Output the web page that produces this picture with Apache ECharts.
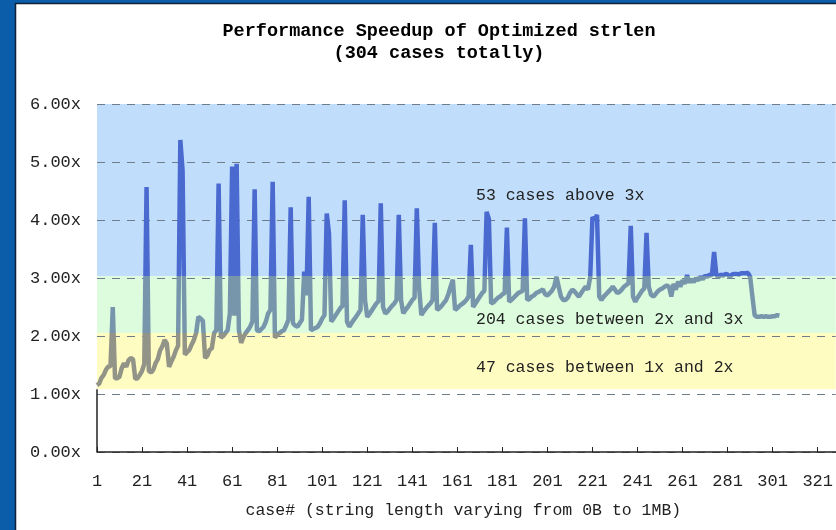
<!DOCTYPE html>
<html>
<head>
<meta charset="utf-8">
<script src="https://cdn.jsdelivr.net/npm/echarts@6/dist/echarts.min.js"></script>
<style>
html,body{margin:0;padding:0;background:#fff;}
#main{width:836px;height:530px;}
</style>
</head>
<body>
<div id="main"></div>
<script>
// ---- data ----
const titleText = 'Performance Speedup of Optimized strlen\n(304 cases totally)';
const xAxisName = 'case# (string length varying from 0B to 1MB)';
const caseCount = 329; // visible range of the x axis (1..329)
const speedup = [
  1.15,1.18,1.28,1.33,1.42,1.47,1.48,2.50,1.27,1.27,
  1.30,1.45,1.53,1.47,1.58,1.62,1.60,1.26,1.27,1.33,
  1.40,1.52,4.57,1.40,1.37,1.42,1.53,1.60,1.75,1.82,
  1.93,1.87,1.47,1.56,1.64,1.75,1.83,5.38,4.85,1.68,
  1.72,1.76,1.85,1.93,2.05,2.33,2.30,2.26,1.62,1.66,
  1.76,1.79,2.05,2.10,4.63,1.97,2.00,2.05,2.10,2.39,
  4.92,2.35,4.97,2.10,1.88,1.98,2.05,2.10,2.16,2.25,
  4.53,2.10,2.08,2.12,2.16,2.25,2.39,2.45,4.66,1.97,
  2.02,2.05,2.08,2.10,2.18,2.28,4.22,2.22,2.18,2.16,
  2.22,2.28,3.11,2.70,4.40,2.10,2.12,2.14,2.16,2.22,
  2.30,2.36,4.11,3.77,2.25,2.30,2.36,2.42,2.48,2.52,
  4.34,2.25,2.16,2.22,2.28,2.33,2.39,2.45,4.09,2.62,
  2.33,2.38,2.44,2.50,2.56,2.60,4.29,2.50,2.39,2.42,
  2.47,2.52,2.56,2.62,4.09,2.62,2.39,2.45,2.50,2.56,
  2.62,2.66,4.20,2.85,2.36,2.42,2.47,2.52,2.56,2.62,
  3.95,2.45,2.48,2.52,2.57,2.62,2.72,2.85,2.97,2.45,
  2.48,2.52,2.55,2.58,2.62,2.68,3.57,2.50,2.56,2.62,
  2.68,2.74,2.78,4.14,4.02,2.56,2.58,2.62,2.66,2.68,
  2.72,2.74,3.87,2.59,2.62,2.66,2.70,2.74,2.76,2.78,
  4.03,2.62,2.64,2.68,2.70,2.74,2.76,2.78,2.80,2.72,
  2.70,2.74,2.78,2.85,3.02,2.85,2.68,2.62,2.62,2.66,
  2.74,2.80,2.77,2.72,2.68,2.74,2.80,2.85,2.80,3.02,
  4.05,4.00,4.09,2.68,2.62,2.68,2.72,2.76,2.80,2.85,
  2.80,2.74,2.76,2.80,2.85,2.88,2.91,3.90,2.68,2.59,
  2.66,2.72,2.78,2.82,3.78,2.85,2.71,2.68,2.72,2.77,
  2.80,2.82,2.85,2.87,2.85,2.68,2.90,2.80,2.94,2.85,
  2.96,2.90,3.05,2.92,2.98,2.93,3.00,2.96,3.02,2.98,
  3.04,3.02,3.06,3.04,3.45,3.05,3.02,3.06,3.04,3.07,
  3.06,3.02,3.06,3.07,3.07,3.06,3.08,3.08,3.08,3.09,
  3.02,2.68,2.36,2.33,2.33,2.34,2.33,2.34,2.33,2.33,
  2.34,2.34,2.36,2.35
];
// band edges (speedup values) and texts
const bandBlue = [3.03, 6];
const bandGreen = [2.05, 3.03];
const bandYellow = [1.08, 2.05];
const bandTexts = ['53 cases above 3x', '204 cases between 2x and 3x', '47 cases between 1x and 2x'];

const categories = [];
for (let i = 1; i <= caseCount; i++) categories.push(String(i));

const FONT = 'Liberation Mono';
const chart = echarts.init(document.getElementById('main'));
const gridStroke = '#6f7c8a';

chart.setOption({
  animation: false,
  backgroundColor: '#ffffff',
  graphic: [
    { type: 'rect', z: -100, silent: true, shape: { x: 0, y: 0, width: 836, height: 530 }, style: { fill: '#0b5ca9' } },
    { type: 'rect', z: -99, silent: true, shape: { x: 15.5, y: 3.5, width: 830, height: 540 }, style: { fill: '#ffffff', stroke: '#10223a', lineWidth: 1.5 } },
    { type: 'text', z: 50, left: 476, top: 187, style: { text: bandTexts[0], font: '16.5px "' + FONT + '"', fill: '#222' } },
    { type: 'text', z: 50, left: 476, top: 311, style: { text: bandTexts[1], font: '16.5px "' + FONT + '"', fill: '#222' } },
    { type: 'text', z: 50, left: 476, top: 359, style: { text: bandTexts[2], font: '16.5px "' + FONT + '"', fill: '#222' } }
  ],
  title: {
    text: titleText,
    left: 434,
    textAlign: 'center',
    top: 15,
    textStyle: { fontFamily: FONT, fontSize: 18.5, fontWeight: 'bold', color: '#000', lineHeight: 22 }
  },
  grid: { left: 97, right: -5, top: 104, bottom: 78, containLabel: false },
  xAxis: {
    type: 'category',
    data: categories,
    boundaryGap: false,
    name: xAxisName,
    nameLocation: 'middle',
    nameGap: 50,
    nameTextStyle: { fontFamily: FONT, fontSize: 16.5, color: '#222', padding: [0, 6, 0, 0] },
    axisLine: { show: true, lineStyle: { color: '#222', width: 1.5 } },
    axisTick: { show: true, inside: true, length: 5, interval: 19, lineStyle: { color: '#222' } },
    axisLabel: { interval: 19, margin: 21, fontFamily: FONT, fontSize: 17, color: '#222' },
    splitLine: { show: false }
  },
  yAxis: {
    type: 'value',
    min: 0, max: 6, interval: 1,
    axisLine: { show: false },
    axisTick: { show: false },
    axisLabel: { margin: 16, fontFamily: FONT, fontSize: 17, color: '#222', formatter: v => v.toFixed(2) + 'x' },
    splitLine: { show: true, lineStyle: { color: gridStroke, type: [8, 7], width: 1 } }
  },
  visualMap: {
    show: false,
    type: 'piecewise',
    seriesIndex: 0,
    dimension: 1,
    pieces: [
      { gte: bandGreen[1], color: '#4a6ad0' },
      { gte: bandGreen[0], lt: bandGreen[1], color: '#7896ab' },
      { lt: bandGreen[0], color: '#939488' }
    ]
  },
  series: [
    {
      type: 'line',
      data: speedup,
      symbol: 'none',
      z: 5,
      lineStyle: { width: 4.5 },
      markLine: {
        silent: true,
        symbol: 'none',
        label: { show: false },
        lineStyle: { color: '#222', width: 1.5, type: 'solid' },
        data: [[{ coord: [categories[0], 0] }, { coord: [categories[0], bandYellow[0]] }]]
      }
    },
    {
      type: 'line',
      data: [],
      silent: true,
      markArea: {
        silent: true,
        z: -1,
        data: [
          [{ yAxis: bandBlue[0], itemStyle: { color: '#c0ddfb' } }, { yAxis: bandBlue[1] }],
          [{ yAxis: bandGreen[0], itemStyle: { color: '#ddfcdd' } }, { yAxis: bandGreen[1] }],
          [{ yAxis: bandYellow[0], itemStyle: { color: '#fffcc2' } }, { yAxis: bandYellow[1] }]
        ]
      }
    }
  ]
});
</script>
</body>
</html>
